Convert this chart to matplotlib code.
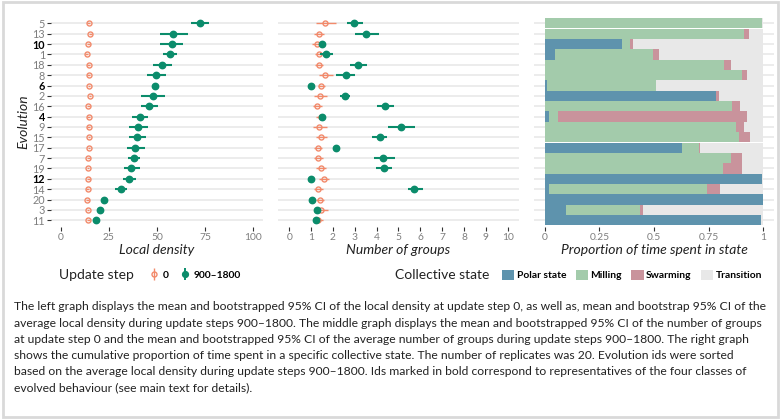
import numpy as np
import matplotlib
matplotlib.use('Agg')
import matplotlib.pyplot as plt
from matplotlib import font_manager
from matplotlib.lines import Line2D
from matplotlib.patches import Patch, Rectangle

# evolution ids, sorted by average local density (top to bottom)
evo_ids = ['5', '13', '10', '1', '18', '8', '6', '2', '16', '4',
           '9', '15', '17', '7', '19', '12', '14', '20', '3', '11']
bold_ids = ['10', '6', '4', '12']

# local density, update step 0
dens0_mean = [14.4, 15.3, 14.2, 13.3, 14.4, 14.4, 14.6, 15.1, 14.2, 14.4,
              14.4, 14.6, 14.6, 14.2, 14.0, 14.2, 13.9, 13.7, 14.0, 14.2]
dens0_lo = [13.7, 14.6, 13.5, 12.6, 13.7, 13.7, 13.9, 14.4, 13.5, 13.7,
            13.7, 13.9, 13.9, 13.5, 13.3, 13.5, 13.2, 13.0, 13.3, 13.5]
dens0_hi = [15.1, 16.0, 14.9, 14.0, 15.1, 15.1, 15.3, 15.8, 14.9, 15.1,
            15.1, 15.3, 15.3, 14.9, 14.7, 14.9, 14.6, 14.4, 14.7, 14.9]
# local density, update steps 900-1800
dens_mean = [72.4, 58.6, 57.9, 56.8, 52.7, 49.7, 48.9, 48.0, 45.8, 41.4,
             39.9, 39.5, 38.6, 38.1, 36.7, 35.4, 31.0, 22.4, 20.3, 18.2]
dens_lo = [67.6, 51.6, 51.5, 53.2, 47.7, 44.7, 47.3, 41.6, 41.9, 37.1,
           35.2, 35.4, 34.5, 34.8, 32.9, 32.2, 27.9, 20.8, 19.1, 16.8]
dens_hi = [77.1, 66.2, 63.6, 60.5, 57.7, 54.9, 50.4, 54.4, 50.4, 45.1,
           45.4, 44.5, 44.0, 41.2, 41.2, 39.0, 34.3, 24.1, 21.3, 19.8]

# number of groups, update step 0
grp0_mean = [1.65, 1.34, 1.25, 1.34, 1.34, 1.65, 1.45, 1.40, 1.25, 1.44,
             1.34, 1.45, 1.30, 1.30, 1.45, 1.60, 1.30, 1.40, 1.45, 1.33]
grp0_lo = [1.21, 1.15, 1.04, 1.16, 1.19, 1.37, 1.30, 1.15, 1.07, 1.22,
           1.10, 1.22, 1.12, 1.12, 1.24, 1.37, 1.12, 1.22, 1.19, 1.10]
grp0_hi = [2.15, 1.59, 1.50, 1.59, 1.53, 1.98, 1.63, 1.71, 1.50, 1.63,
           1.71, 1.71, 1.50, 1.54, 1.68, 1.83, 1.53, 1.59, 1.76, 1.56]
# number of groups, update steps 900-1800
grp_mean = [2.98, 3.51, 1.50, 1.68, 3.16, 2.60, 1.01, 2.55, 4.40, 1.51,
            5.13, 4.14, 2.14, 4.31, 4.35, 1.01, 5.73, 1.04, 1.28, 1.21]
grp_lo = [2.63, 3.02, 1.36, 1.40, 2.78, 2.14, 1.00, 2.34, 4.00, 1.45,
          4.53, 3.79, 2.02, 3.88, 3.97, 1.00, 5.42, 1.01, 1.19, 1.07]
grp_hi = [3.36, 4.09, 1.65, 2.02, 3.54, 3.02, 1.03, 2.78, 4.79, 1.58,
          5.74, 4.49, 2.26, 4.82, 4.72, 1.03, 6.12, 1.08, 1.40, 1.36]

# proportion of time spent in each collective state
polar = [0.000, 0.000, 0.352, 0.046, 0.000, 0.000, 0.009, 0.784, 0.000, 0.018,
         0.000, 0.000, 0.628, 0.000, 0.000, 0.995, 0.018, 1.000, 0.096, 0.991]
milling = [0.995, 0.911, 0.038, 0.449, 0.821, 0.904, 0.500, 0.000, 0.858, 0.042,
           0.876, 0.890, 0.078, 0.853, 0.817, 0.000, 0.725, 0.000, 0.340, 0.000]
swarming = [0.000, 0.025, 0.014, 0.028, 0.032, 0.023, 0.000, 0.014, 0.036, 0.867,
            0.037, 0.050, 0.005, 0.051, 0.087, 0.000, 0.060, 0.000, 0.014, 0.000]
transition = [0.005, 0.064, 0.596, 0.477, 0.147, 0.073, 0.491, 0.202, 0.106, 0.073,
              0.087, 0.060, 0.289, 0.096, 0.096, 0.005, 0.197, 0.000, 0.550, 0.009]
state_names = ['Polar state', 'Milling', 'Swarming', 'Transition']
state_colors = ['#5e93ad', '#a3cbab', '#c9939c', '#e8e8e8']

caption = [
    "The left graph displays the mean and bootstrapped 95% CI of the local density at update step 0, as well as, mean and bootstrap 95% CI of the",
    "average local density during update steps 900\u20131800. The middle graph displays the mean and bootstrapped 95% CI of the number of groups",
    "at update step 0 and the mean and bootstrapped 95% CI of the average number of groups during update steps 900\u20131800. The right graph",
    "shows the cumulative proportion of time spent in a specific collective state. The number of replicates was 20. Evolution ids were sorted",
    "based on the average local density during update steps 900\u20131800. Ids marked in bold correspond to representatives of the four classes of",
    "evolved behaviour (see main text for details).",
]

orange = '#f28a6b'
green = '#0b8c6b'
grid_c = '#ebebeb'

names = {f.name for f in font_manager.fontManager.ttflist}
narrow = 'Liberation Sans Narrow' if 'Liberation Sans Narrow' in names else 'Lato'
plt.rcParams['font.family'] = ['Lato', 'DejaVu Sans']

fig = plt.figure(figsize=(7.81, 4.2), dpi=100)
bot, hgt = 0.4607, 0.4986
ax1 = fig.add_axes([0.0658, bot, 0.2704, hgt])
ax2 = fig.add_axes([0.3565, bot, 0.3074, hgt])
ax3 = fig.add_axes([0.6837, bot, 0.3073, hgt])

y = np.arange(len(evo_ids))[::-1]

for ax in (ax1, ax2, ax3):
    for s in ax.spines.values():
        s.set_visible(False)
    ax.set_axisbelow(True)
    ax.set_yticks(y)
    ax.yaxis.grid(True, color=grid_c, lw=1.3)
    ax.set_ylim(-0.6, len(evo_ids) - 0.4)
    ax.tick_params(axis='x', length=3, width=0.8, color='#333333',
                   labelcolor='#7f7f7f', labelsize=7.4, pad=2)

# left: local density
ax1.hlines(y, dens0_lo, dens0_hi, color=orange, lw=1.0)
ax1.plot(dens0_mean, y, 'o', ms=3.6, mfc='none', mec=orange, mew=1.0)
ax1.hlines(y, dens_lo, dens_hi, color=green, lw=1.5)
ax1.plot(dens_mean, y, 'o', ms=4.6, color=green)
ax1.set_xlim(-5, 105)
ax1.set_xticks([0, 25, 50, 75, 100])
ax1.set_yticklabels(evo_ids)
ax1.tick_params(axis='y', length=3, width=0.8, color='#333333',
                labelcolor='#7f7f7f', labelsize=7.8, pad=1.5)
for lab in ax1.get_yticklabels():
    if lab.get_text() in bold_ids:
        lab.set_fontweight('bold')
        lab.set_color('black')
ax1.set_xlabel('Local density', fontsize=10, style='italic', color='#222222', labelpad=1)
ax1.set_ylabel('Evolution', fontsize=10, style='italic', color='#222222', labelpad=2)

# middle: number of groups
ax2.hlines(y, grp0_lo, grp0_hi, color=orange, lw=1.0)
ax2.plot(grp0_mean, y, 'o', ms=3.6, mfc='none', mec=orange, mew=1.0)
ax2.hlines(y, grp_lo, grp_hi, color=green, lw=1.5)
ax2.plot(grp_mean, y, 'o', ms=4.6, color=green)
ax2.set_xlim(-0.5, 10.5)
ax2.set_xticks(range(11))
ax2.tick_params(axis='y', length=0, labelleft=False)
ax2.set_xlabel('Number of groups', fontsize=10, style='italic', color='#222222', labelpad=1)

# right: stacked proportions
left = np.zeros(len(evo_ids))
for vals, c in zip([polar, milling, swarming, transition], state_colors):
    ax3.barh(y, vals, left=left, height=0.99, color=c, lw=0)
    left = left + np.array(vals)
ax3.set_xlim(-0.05, 1.05)
ax3.set_xticks([0, 0.25, 0.5, 0.75, 1])
ax3.set_xticklabels(['0', '0.25', '0.5', '0.75', '1'])
ax3.tick_params(axis='y', length=0, labelleft=False)
ax3.set_xlabel('Proportion of time spent in state', fontsize=10, style='italic',
               color='#222222', labelpad=1)

# legends
leg_y = 1 - 275 / 420
fig.text(59 / 781, leg_y, 'Update step', fontsize=10, color='#222222', va='center')
h0 = (Line2D([], [], ls='none', marker='|', ms=9, mew=1.0, color=orange),
      Line2D([], [], ls='none', marker='o', ms=3.6, mfc='none', mec=orange, mew=1.0))
h1 = (Line2D([], [], ls='none', marker='|', ms=9, mew=1.4, color=green),
      Line2D([], [], ls='none', marker='o', ms=4.2, color=green))
fig.legend([h0, h1], ['0', '900\u20131800'], loc='center left',
           bbox_to_anchor=(149 / 781, leg_y), ncol=2, frameon=False,
           borderpad=0, borderaxespad=0, handlelength=0.9, handletextpad=0.4,
           columnspacing=1.2, prop={'size': 7.4, 'weight': 'bold'})

fig.text(395 / 781, leg_y, 'Collective state', fontsize=10, color='#222222', va='center')
patches = [Patch(color=c, lw=0) for c in state_colors]
fig.legend(patches, state_names, loc='center left',
           bbox_to_anchor=(502 / 781, leg_y), ncol=4, frameon=False,
           borderpad=0, borderaxespad=0, handlelength=1.2, handleheight=1.2,
           handletextpad=0.25, columnspacing=0.9, prop={'size': 7.4, 'weight': 'bold'})

# caption
for i, line in enumerate(caption):
    fig.text(14 / 781, 1 - (307 + i * 16.2) / 420, line, fontsize=8.7,
             family=[narrow, 'DejaVu Sans'], color='#222222', va='center')

fig.add_artist(Rectangle((0.004, 0.006), 0.992, 0.989, transform=fig.transFigure,
                         fill=False, ec='#d9d9d9', lw=2))

fig.savefig('out.png', dpi=100, facecolor='white')
